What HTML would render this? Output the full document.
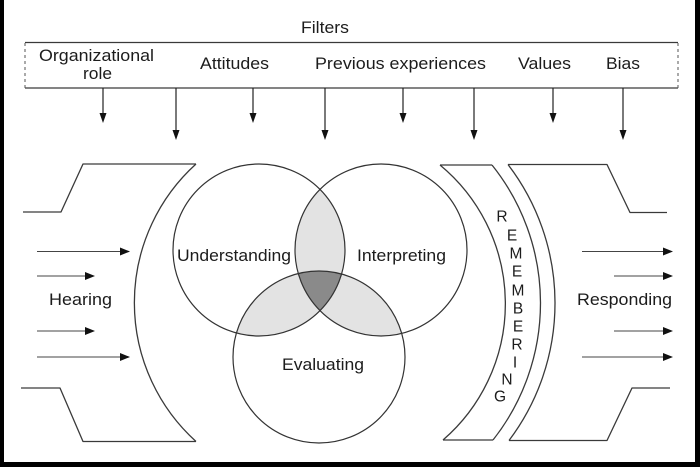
<!DOCTYPE html>
<html>
<head>
<meta charset="utf-8">
<style>
  html, body { margin: 0; padding: 0; background: #fff; }
  body { width: 700px; height: 467px; overflow: hidden; }
  svg { display: block; }
  text { font-family: "Liberation Sans", Arial, sans-serif; fill: #1c1c1c; }
</style>
</head>
<body>
<svg width="700" height="467" viewBox="0 0 700 467" xmlns="http://www.w3.org/2000/svg">
  <defs>
    <clipPath id="cA"><circle cx="259" cy="250" r="86"/></clipPath>
    <clipPath id="cB"><circle cx="381" cy="250" r="86"/></clipPath>
  </defs>
  <rect x="0" y="0" width="700" height="467" fill="#fff"/>

  <!-- Filters title -->
  <text x="301" y="33" font-size="17" textLength="48" lengthAdjust="spacingAndGlyphs">Filters</text>

  <!-- Filter box -->
  <g stroke="#3a3a3a" stroke-width="1.3" fill="none">
    <line x1="25" y1="42.5" x2="678" y2="42.5"/>
    <line x1="25" y1="88" x2="678" y2="88"/>
  </g>
  <g stroke="#555" stroke-width="1" stroke-dasharray="3,3" fill="none">
    <line x1="25" y1="43" x2="25" y2="88"/>
    <line x1="678" y1="43" x2="678" y2="88"/>
  </g>

  <text x="39" y="61" font-size="16.5" textLength="115" lengthAdjust="spacingAndGlyphs">Organizational</text>
  <text x="83" y="79" font-size="16.5" textLength="29" lengthAdjust="spacingAndGlyphs">role</text>
  <text x="200" y="69" font-size="17" textLength="69" lengthAdjust="spacingAndGlyphs">Attitudes</text>
  <text x="315" y="69" font-size="17" textLength="171" lengthAdjust="spacingAndGlyphs">Previous experiences</text>
  <text x="518" y="69" font-size="17" textLength="53" lengthAdjust="spacingAndGlyphs">Values</text>
  <text x="606" y="69" font-size="17" textLength="34" lengthAdjust="spacingAndGlyphs">Bias</text>

  <!-- Filter arrows -->
  <g stroke="#222" stroke-width="1.2">
    <line x1="103" y1="88" x2="103" y2="115"/>
    <line x1="176" y1="88" x2="176" y2="132"/>
    <line x1="253" y1="88" x2="253" y2="115"/>
    <line x1="325" y1="88" x2="325" y2="132"/>
    <line x1="403" y1="88" x2="403" y2="115"/>
    <line x1="474" y1="88" x2="474" y2="132"/>
    <line x1="553" y1="88" x2="553" y2="115"/>
    <line x1="623" y1="88" x2="623" y2="132"/>
  </g>
  <g fill="#111">
    <polygon points="103,123 99.5,113 106.5,113"/>
    <polygon points="176,140 172.5,130 179.5,130"/>
    <polygon points="253,123 249.5,113 256.5,113"/>
    <polygon points="325,140 321.5,130 328.5,130"/>
    <polygon points="403,123 399.5,113 406.5,113"/>
    <polygon points="474,140 470.5,130 477.5,130"/>
    <polygon points="553,123 549.5,113 556.5,113"/>
    <polygon points="623,140 619.5,130 626.5,130"/>
  </g>

  <!-- Venn shading -->
  <g clip-path="url(#cA)">
    <circle cx="381" cy="250" r="86" fill="#e3e3e3"/>
    <circle cx="319" cy="357" r="86" fill="#e3e3e3"/>
  </g>
  <g clip-path="url(#cB)">
    <circle cx="319" cy="357" r="86" fill="#e3e3e3"/>
  </g>
  <g clip-path="url(#cA)">
    <g clip-path="url(#cB)">
      <circle cx="319" cy="357" r="86" fill="#8a8a8a"/>
    </g>
  </g>

  <!-- Venn circles -->
  <g stroke="#333" stroke-width="1.2" fill="none">
    <circle cx="259" cy="250" r="86"/>
    <circle cx="381" cy="250" r="86"/>
    <circle cx="319" cy="357" r="86"/>
  </g>

  <text x="177" y="261" font-size="17" textLength="114" lengthAdjust="spacingAndGlyphs">Understanding</text>
  <text x="357" y="261" font-size="17" textLength="89" lengthAdjust="spacingAndGlyphs">Interpreting</text>
  <text x="282" y="370" font-size="17" textLength="82" lengthAdjust="spacingAndGlyphs">Evaluating</text>

  <!-- Left bracket -->
  <g stroke="#3a3a3a" stroke-width="1.3" fill="none" stroke-linejoin="round">
    <polyline points="23,212 61,212 83,164 196,164"/>
    <polyline points="21,388 60,388 83,441.5 196,441.5"/>
    <path d="M196,164 A187,187 0 0 0 196,441.5"/>
  </g>

  <!-- Remembering band -->
  <g stroke="#3a3a3a" stroke-width="1.3" fill="none" stroke-linejoin="round">
    <line x1="440" y1="165" x2="492" y2="165"/>
    <line x1="443" y1="440" x2="493" y2="440"/>
    <path d="M440,165 A180,180 0 0 1 443,440"/>
    <path d="M492,165 A221,221 0 0 1 493,440"/>
  </g>

  <!-- Right bracket -->
  <g stroke="#3a3a3a" stroke-width="1.3" fill="none" stroke-linejoin="round">
    <path d="M508,164.5 A228,228 0 0 1 509,440.5"/>
    <polyline points="508,164.5 607,164.5 630,212.5 667,212.5"/>
    <polyline points="509,440.5 607,440.5 632,388 670,388"/>
  </g>

  <!-- REMEMBERING letters -->
  <g font-size="15.5" text-anchor="middle">
    <text x="502" y="221.5">R</text>
    <text x="512" y="240.5">E</text>
    <text x="516" y="258.5">M</text>
    <text x="517" y="276.5">E</text>
    <text x="518" y="295.5">M</text>
    <text x="518" y="313.5">B</text>
    <text x="518" y="331.5">E</text>
    <text x="517" y="349.5">R</text>
    <text x="515" y="367.5">I</text>
    <text x="507" y="384.5">N</text>
    <text x="500" y="401.5">G</text>
  </g>

  <!-- Hearing arrows -->
  <g stroke="#444" stroke-width="1.1">
    <line x1="37" y1="251.5" x2="121" y2="251.5"/>
    <line x1="37" y1="276" x2="87" y2="276"/>
    <line x1="37" y1="331" x2="87" y2="331"/>
    <line x1="37" y1="357" x2="121" y2="357"/>
  </g>
  <g fill="#111">
    <polygon points="130,251.5 120,247.5 120,255.5"/>
    <polygon points="95,276 85,272 85,280"/>
    <polygon points="95,331 85,327 85,335"/>
    <polygon points="130,357 120,353 120,361"/>
  </g>
  <text x="49" y="305" font-size="17" textLength="63" lengthAdjust="spacingAndGlyphs">Hearing</text>

  <!-- Responding arrows -->
  <g stroke="#444" stroke-width="1.1">
    <line x1="582" y1="251.5" x2="665" y2="251.5"/>
    <line x1="614" y1="276" x2="665" y2="276"/>
    <line x1="614" y1="331" x2="665" y2="331"/>
    <line x1="582" y1="357" x2="665" y2="357"/>
  </g>
  <g fill="#111">
    <polygon points="673,251.5 663,247.5 663,255.5"/>
    <polygon points="673,276 663,272 663,280"/>
    <polygon points="673,331 663,327 663,335"/>
    <polygon points="673,357 663,353 663,361"/>
  </g>
  <text x="577" y="305" font-size="17" textLength="95" lengthAdjust="spacingAndGlyphs">Responding</text>

  <!-- Black frame edges -->
  <rect x="0" y="0" width="4" height="467" fill="#000"/>
  <rect x="695" y="0" width="5" height="467" fill="#000"/>
  <rect x="0" y="462" width="700" height="5" fill="#000"/>
</svg>
</body>
</html>
